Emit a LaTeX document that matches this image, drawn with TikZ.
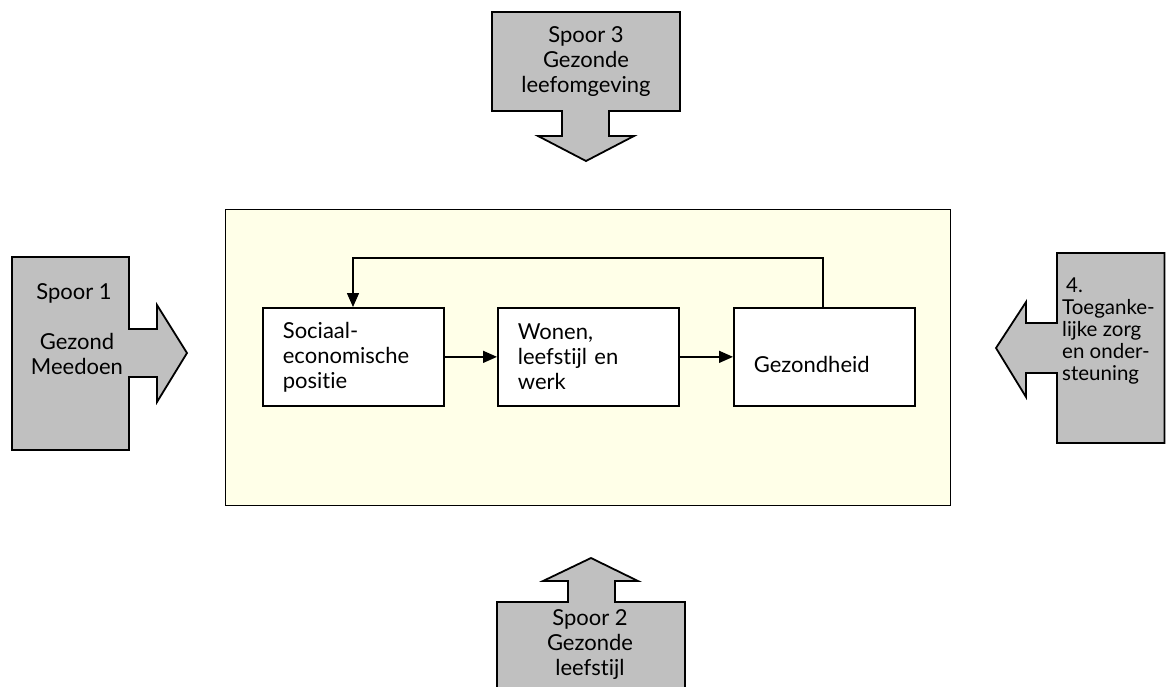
\documentclass[tikz,border=0pt]{standalone}
\usepackage{fontspec}
\setmainfont{Lato}[Ligatures=NoCommon]
\usetikzlibrary{arrows.meta}
\definecolor{grayfill}{HTML}{C0C0C0}
\definecolor{paleyellow}{HTML}{FFFFE8}
\begin{document}
\begin{tikzpicture}[x=1pt,y=-1pt,
  grayarrow/.style={draw=black, fill=grayfill, line width=1.8pt, line join=miter},
  flowbox/.style={draw=black, fill=white, line width=1.7pt, minimum width=181pt, minimum height=98pt, inner xsep=20pt, anchor=north west, text width=141pt, align=left, font=\fontsize{22}{25}\selectfont},
  lbl/.style={font=\fontsize{22}{25}\selectfont, align=center, inner sep=0pt},
  conn/.style={line width=1.5pt, -{Triangle[length=14pt,width=12pt]}}
]
\clip (0,0) rectangle (1166,686);
\fill[white] (0,0) rectangle (1166,686);

% main panel
\node[draw=black, fill=paleyellow, line width=1.3pt, minimum width=725pt, minimum height=296pt, anchor=north west, inner sep=0pt] (panel) at (225,209) {};

% gray arrows
\draw[grayarrow] (492,12) -- (680,12) -- (680,111) -- (609,111) -- (609,136) -- (634,136) -- (586,161) -- (538,136) -- (562,136) -- (562,111) -- (492,111) -- cycle;
\draw[grayarrow] (12,257) -- (129,257) -- (129,329) -- (157,329) -- (157,305) -- (187,353) -- (157,402) -- (157,377) -- (129,377) -- (129,450) -- (12,450) -- cycle;
\draw[grayarrow] (1057,253) -- (1164.5,253) -- (1164.5,443) -- (1057,443) -- (1057,373) -- (1026,373) -- (1026,397) -- (996,348) -- (1026,302) -- (1026,323) -- (1057,323) -- cycle;
\draw[grayarrow] (497,700) -- (497,602) -- (568,602) -- (568,581) -- (543,581) -- (591,558) -- (638,581) -- (615,581) -- (615,602) -- (685,602) -- (685,700);

% gray arrow labels
\node[lbl] (s3) at (586,62) {Spoor 3\\Gezonde\\leefomgeving};
\node[lbl] (s1a) at (74,293) {Spoor 1};
\node[lbl] (s1b) at (77,354) {Gezond\\Meedoen};
\node[lbl] (s2) at (590,645) {Spoor 2\\Gezonde\\leefstijl};
\node[inner sep=0pt, anchor=west, align=left, font=\fontsize{20.5}{22}\selectfont] (s4) at (1062,331) {\hspace{4pt}4.\\Toeganke-\\lijke zorg\\en onder-\\steuning};

% flow boxes
\node[flowbox] (b1) at (262,307) {Sociaal-\\economische\\positie};
\node[flowbox] (b2) at (497,307) {Wonen,\\leefstijl en\\werk};
\node[flowbox] (b3) at (733,307) {\raisebox{-16pt}[0pt][0pt]{Gezondheid}};

% connectors
\draw[conn] (b1.east) -- (b2.west);
\draw[conn] (b2.east) -- (b3.west);
\coordinate (fbA) at (823,258);
\coordinate (fbB) at (353,258);
\draw[conn] (b3.north -| fbA) -- (fbA) -- (fbB) -- (b1.north -| fbB);
\end{tikzpicture}
\end{document}
